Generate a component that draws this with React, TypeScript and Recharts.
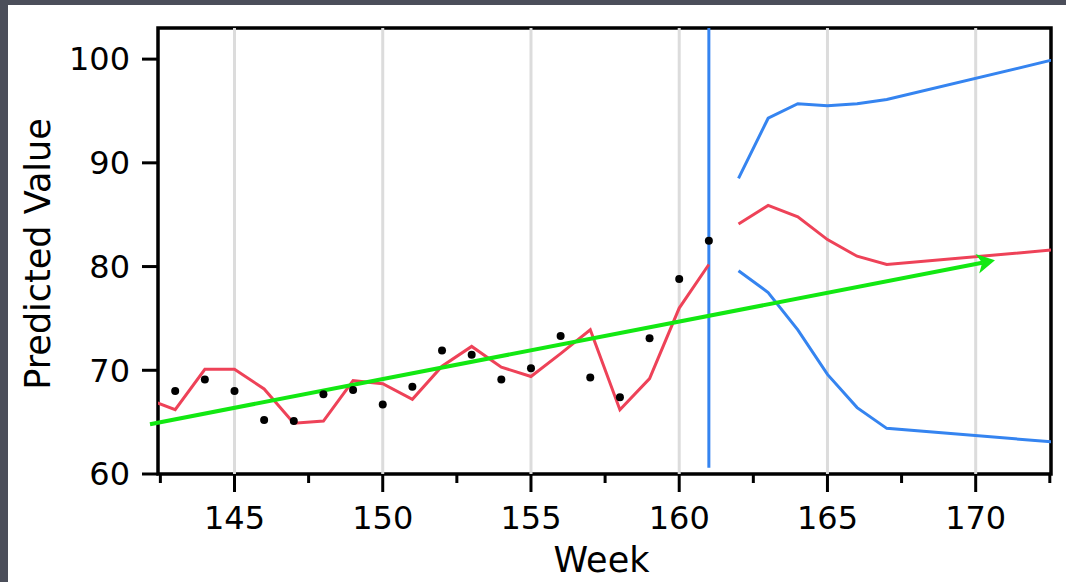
import React from 'react';
import {
  ComposedChart,
  Line,
  Scatter,
  XAxis,
  YAxis,
  ReferenceLine,
  ReferenceArea,
} from 'recharts';

// observed weekly values (black dots)
const actualWeeks = [143, 144, 145, 146, 147, 148, 149, 150, 151, 152, 153, 154, 155, 156, 157, 158, 159, 160, 161];
const actualValues = [68.0, 69.1, 68.0, 65.2, 65.1, 67.7, 68.1, 66.7, 68.4, 71.9, 71.5, 69.1, 70.2, 73.3, 69.3, 67.4, 73.1, 78.8, 82.5];

// fitted values over the history
const fitWeeks = [142, 143, 144, 145, 146, 147, 148, 149, 150, 151, 152, 153, 154, 155, 156, 157, 158, 159, 160, 161];
const fitValues = [67.3, 66.2, 70.1, 70.1, 68.2, 64.9, 65.1, 69.0, 68.7, 67.2, 70.4, 72.3, 70.3, 69.4, 71.6, 73.9, 66.2, 69.2, 76.0, 80.2];

// forecast + confidence band
const forecastWeeks = [162, 163, 164, 165, 166, 167, 173];
const forecastValues = [84.1, 85.9, 84.8, 82.6, 81.0, 80.2, 81.7];
const upperValues = [88.5, 94.3, 95.7, 95.5, 95.7, 96.1, 100.2];
const lowerValues = [79.6, 77.5, 73.9, 69.6, 66.4, 64.4, 63.0];

// trend arrow (start / end)
const trendWeeks = [142.15, 170.65];
const trendValues = [64.8, 80.6];

const forecastStart = 161;
const xMajorTicks = [145, 150, 155, 160, 165, 170];
const xTicks = [142.5, 145, 147.5, 150, 152.5, 155, 157.5, 160, 162.5, 165, 167.5, 170, 172.5];
const yTicks = [60, 70, 80, 90, 100];
const xDomain = [142.42, 172.54];
const yDomain = [60, 103];

const RED = '#ee4258';
const BLUE = '#3584f0';
const GREEN = '#12e812';
const FONT = 'DejaVu Sans';

const toPoints = (weeks: number[], values: number[]) =>
  weeks.map((w, i) => ({ week: w, value: values[i] }));

const actualData = toPoints(actualWeeks, actualValues);
const fitData = toPoints(fitWeeks, fitValues);
const forecastData = toPoints(forecastWeeks, forecastValues);
const upperData = toPoints(forecastWeeks, upperValues);
const lowerData = toPoints(forecastWeeks, lowerValues);

const WeekTick = (props: any) => {
  const { x, y, payload } = props;
  const major = xMajorTicks.includes(payload.value);
  return (
    <g>
      <line x1={x} y1={y} x2={x} y2={y + (major ? 18 : 9)} stroke="#000" strokeWidth={3} />
      {major && (
        <text x={x} y={y + 55} textAnchor="middle" fontSize={32} fontFamily={FONT} fill="#000">
          {payload.value}
        </text>
      )}
    </g>
  );
};

const TrendArrow = (props: any) => {
  const { x1, y1, x2, y2 } = props;
  const dx = x2 - x1;
  const dy = y2 - y1;
  const len = Math.hypot(dx, dy);
  const ux = dx / len;
  const uy = dy / len;
  const back = 18;
  const half = 10;
  const bx = x2 - ux * back;
  const by = y2 - uy * back;
  const nx = x2 - ux * 13;
  const ny = y2 - uy * 13;
  return (
    <g>
      <line x1={x1} y1={y1} x2={nx} y2={ny} stroke={GREEN} strokeWidth={4} />
      <polygon
        points={`${x2},${y2} ${bx - uy * half},${by + ux * half} ${nx},${ny} ${bx + uy * half},${by - ux * half}`}
        fill={GREEN}
      />
    </g>
  );
};

export default function App() {
  return (
    <div style={{ position: 'absolute', left: 0, top: 0, width: 1066, height: 582, background: '#4b4e5a', fontFamily: FONT }}>
      <div style={{ position: 'absolute', left: 8, top: 5, width: 1058, height: 577, background: '#fff' }}>
        <ComposedChart width={1058} height={577} margin={{ top: 23, right: 15, bottom: 0, left: 0 }}>
          <XAxis
            dataKey="week"
            type="number"
            domain={xDomain}
            allowDataOverflow
            ticks={xTicks}
            interval={0}
            height={108}
            tickSize={0}
            tickMargin={0}
            tickLine={false}
            axisLine={false}
            tick={<WeekTick />}
            label={{
              content: (p: any) => {
                const vb = p.viewBox;
                return (
                  <text x={vb.x + vb.width / 2 - 3} y={vb.y + 98} textAnchor="middle" fontSize={35} fontFamily={FONT} fill="#000">
                    Week
                  </text>
                );
              },
            }}
          />
          <YAxis
            dataKey="value"
            type="number"
            domain={yDomain}
            allowDataOverflow
            ticks={yTicks}
            interval={0}
            width={150}
            tickSize={16}
            tickMargin={12}
            axisLine={false}
            tickLine={{ stroke: '#000', strokeWidth: 3 }}
            tick={{ fontSize: 32, fontFamily: FONT, fill: '#000' }}
            label={{
              content: (p: any) => {
                const vb = p.viewBox;
                const cx = vb.x + 30;
                const cy = vb.y + vb.height / 2 + 3;
                return (
                  <text
                    x={cx}
                    y={cy}
                    transform={`rotate(-90 ${cx} ${cy})`}
                    textAnchor="middle"
                    dominantBaseline="central"
                    fontSize={35}
                    fontFamily={FONT}
                    fill="#000"
                  >
                    Predicted Value
                  </text>
                );
              },
            }}
          />

          {xMajorTicks.map((w) => (
            <ReferenceLine key={w} x={w} stroke="#dcdcdc" strokeWidth={3} />
          ))}

          <ReferenceLine
            segment={[
              { x: forecastStart, y: 60.6 },
              { x: forecastStart, y: yDomain[1] },
            ]}
            stroke={BLUE}
            strokeWidth={3}
          />

          <Line data={fitData} dataKey="value" stroke={RED} strokeWidth={3} dot={false} isAnimationActive={false} />
          <Line data={forecastData} dataKey="value" stroke={RED} strokeWidth={3} dot={false} isAnimationActive={false} />
          <Line data={upperData} dataKey="value" stroke={BLUE} strokeWidth={3} dot={false} isAnimationActive={false} />
          <Line data={lowerData} dataKey="value" stroke={BLUE} strokeWidth={3} dot={false} isAnimationActive={false} />

          <Scatter
            data={actualData}
            dataKey="value"
            fill="#000"
            shape={(p: any) => <circle cx={p.cx} cy={p.cy} r={4} fill="#000" />}
            isAnimationActive={false}
          />

          <ReferenceLine
            segment={[
              { x: trendWeeks[0], y: trendValues[0] },
              { x: trendWeeks[1], y: trendValues[1] },
            ]}
            ifOverflow="visible"
            shape={TrendArrow}
          />

          <ReferenceArea
            x1={xDomain[0]}
            x2={xDomain[1]}
            y1={yDomain[0]}
            y2={yDomain[1]}
            fill="none"
            fillOpacity={0}
            stroke="#000"
            strokeWidth={3.5}
            ifOverflow="visible"
          />
        </ComposedChart>
      </div>
    </div>
  );
}
